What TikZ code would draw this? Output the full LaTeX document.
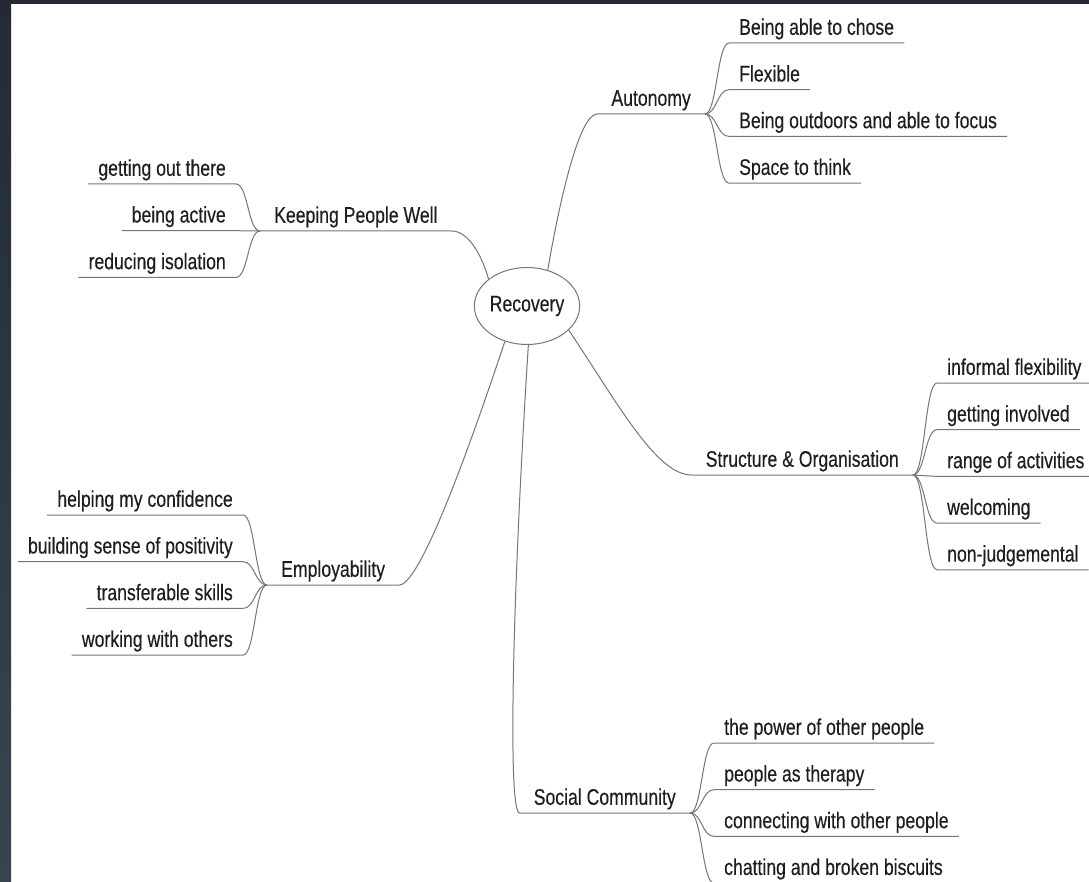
\documentclass[tikz,border=0pt]{standalone}
\usepackage{fontspec}
\setmainfont{Liberation Sans}[FakeStretch=0.78, FakeBold=0.3]
\usetikzlibrary{positioning,shapes.geometric}
\definecolor{linkgray}{RGB}{118,118,118}
\definecolor{inkgray}{RGB}{30,30,30}
\definecolor{frametop}{RGB}{35,42,51}
\definecolor{framelow}{RGB}{58,68,80}

\begin{document}
\begin{tikzpicture}[
    x=1pt, y=-1pt,
    font=\fontsize{22.6}{26}\selectfont,
    hub/.style={draw=linkgray, line width=1pt, ellipse, text=inkgray,
                minimum width=100pt, minimum height=77pt, inner sep=0pt},
    topic/.style={inner xsep=14pt, inner ysep=0pt, text=inkgray,
                  text height=16pt, text depth=8pt},
    leaf/.style={inner xsep=10pt, inner ysep=0pt, text=inkgray,
                 text height=16pt, text depth=8pt},
    link/.style={draw=linkgray, line width=1pt}
]
    \fill[white] (0,0) rectangle (1089,882);
    \useasboundingbox (0,0) rectangle (1089,882);

    \node[hub] (rec) at (527,306) {Recovery};

    % main topics
    \node[topic, anchor=south east] (aut) at (705,114) {Autonomy};
    \node[topic, anchor=south west] (kpw) at (260,231) {Keeping People Well};
    \node[topic, anchor=south east] (struct) at (913,475) {Structure \& Organisation};
    \node[topic, anchor=south west] (emp) at (267,585) {Employability};
    \node[topic, anchor=south east] (soc) at (690,813) {Social Community};

    % leaves
    \node[leaf, anchor=south west] (aut1) at (729,43) {Being able to chose};
    \node[leaf, below=22.3pt of aut1.south west, anchor=north west] (aut2) {Flexible};
    \node[leaf, below=22.3pt of aut2.south west, anchor=north west] (aut3) {Being outdoors and able to focus};
    \node[leaf, below=22.3pt of aut3.south west, anchor=north west] (aut4) {Space to think};

    \node[leaf, anchor=south east] (kpw1) at (236,184) {getting out there};
    \node[leaf, below=22.3pt of kpw1.south east, anchor=north east] (kpw2) {being active};
    \node[leaf, below=22.3pt of kpw2.south east, anchor=north east] (kpw3) {reducing isolation};

    \node[leaf, anchor=south west] (st1) at (937,383) {informal flexibility};
    \node[leaf, below=22.3pt of st1.south west, anchor=north west] (st2) {getting involved};
    \node[leaf, below=22.3pt of st2.south west, anchor=north west] (st3) {range of activities};
    \node[leaf, below=22.3pt of st3.south west, anchor=north west] (st4) {welcoming};
    \node[leaf, below=22.3pt of st4.south west, anchor=north west] (st5) {non-judgemental};

    \node[leaf, anchor=south east] (emp1) at (243,515) {helping my confidence};
    \node[leaf, below=22.3pt of emp1.south east, anchor=north east] (emp2) {building sense of positivity};
    \node[leaf, below=22.3pt of emp2.south east, anchor=north east] (emp3) {transferable skills};
    \node[leaf, below=22.3pt of emp3.south east, anchor=north east] (emp4) {working with others};

    \node[leaf, anchor=south west] (soc1) at (714,743) {the power of other people};
    \node[leaf, below=22.3pt of soc1.south west, anchor=north west] (soc2) {people as therapy};
    \node[leaf, below=22.3pt of soc2.south west, anchor=north west] (soc3) {connecting with other people};
    \node[leaf, below=22.3pt of soc3.south west, anchor=north west] (soc4) {chatting and broken biscuits};

    % hub to topics
    \draw[link] (rec.60) .. controls +(12,-70) and +(-18,0) .. (aut.south west) -- (aut.south east);
    \draw[link] (rec.145) .. controls +(-8,-28) and +(15,0) .. (kpw.south east) -- (kpw.south west);
    \draw[link] (rec.-30) .. controls +(50,75) and +(-35,0) .. (struct.south west) -- (struct.south east);
    \draw[link] (rec.-122) .. controls +(-30,90) and +(22,0) .. (emp.south east) -- (emp.south west);
    \draw[link] (rec.-88) .. controls +(-16,250) and +(-12,0) .. (soc.south west) -- (soc.south east);

    % topics to leaves
    \draw[link] (aut.south east) .. controls +(12,0) and +(-12,0) .. (aut1.south west) -- (aut1.south east);
    \draw[link] (aut.south east) .. controls +(12,0) and +(-12,0) .. (aut2.south west) -- (aut2.south east);
    \draw[link] (aut.south east) .. controls +(12,0) and +(-12,0) .. (aut3.south west) -- (aut3.south east);
    \draw[link] (aut.south east) .. controls +(12,0) and +(-12,0) .. (aut4.south west) -- (aut4.south east);

    \draw[link] (kpw.south west) .. controls +(-12,0) and +(12,0) .. (kpw1.south east) -- (kpw1.south west);
    \draw[link] (kpw.south west) .. controls +(-12,0) and +(12,0) .. (kpw2.south east) -- (kpw2.south west);
    \draw[link] (kpw.south west) .. controls +(-12,0) and +(12,0) .. (kpw3.south east) -- (kpw3.south west);

    \draw[link] (struct.south east) .. controls +(12,0) and +(-12,0) .. (st1.south west) -- (st1.south east);
    \draw[link] (struct.south east) .. controls +(12,0) and +(-12,0) .. (st2.south west) -- (st2.south east);
    \draw[link] (struct.south east) .. controls +(12,0) and +(-12,0) .. (st3.south west) -- (st3.south east);
    \draw[link] (struct.south east) .. controls +(12,0) and +(-12,0) .. (st4.south west) -- (st4.south east);
    \draw[link] (struct.south east) .. controls +(12,0) and +(-12,0) .. (st5.south west) -- (st5.south east);

    \draw[link] (emp.south west) .. controls +(-12,0) and +(12,0) .. (emp1.south east) -- (emp1.south west);
    \draw[link] (emp.south west) .. controls +(-12,0) and +(12,0) .. (emp2.south east) -- (emp2.south west);
    \draw[link] (emp.south west) .. controls +(-12,0) and +(12,0) .. (emp3.south east) -- (emp3.south west);
    \draw[link] (emp.south west) .. controls +(-12,0) and +(12,0) .. (emp4.south east) -- (emp4.south west);

    \draw[link] (soc.south east) .. controls +(12,0) and +(-12,0) .. (soc1.south west) -- (soc1.south east);
    \draw[link] (soc.south east) .. controls +(12,0) and +(-12,0) .. (soc2.south west) -- (soc2.south east);
    \draw[link] (soc.south east) .. controls +(12,0) and +(-12,0) .. (soc3.south west) -- (soc3.south east);
    \draw[link] (soc.south east) .. controls +(12,0) and +(-12,0) .. (soc4.south west) -- (soc4.south east);

    % dark frame
    \shade[top color=frametop, bottom color=framelow] (0,0) rectangle (11,882);
    \fill[frametop] (0,0) rectangle (1089,4);
\end{tikzpicture}
\end{document}
